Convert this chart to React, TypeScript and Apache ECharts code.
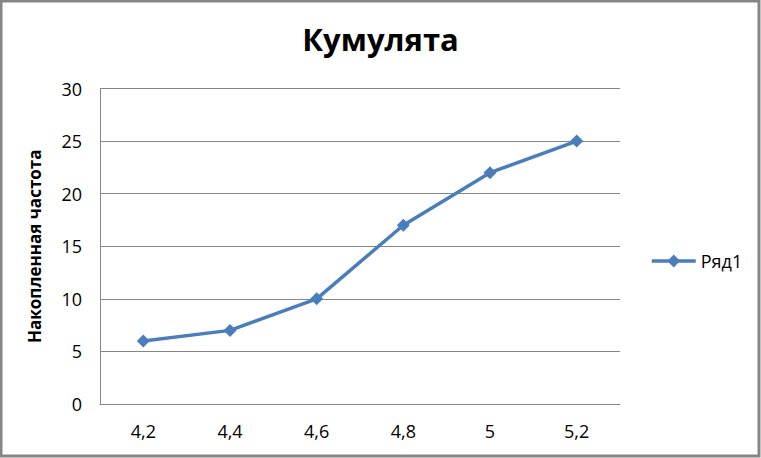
import React, { useEffect, useRef } from "react";
import * as echarts from "echarts";

const categories = ["4,2", "4,4", "4,6", "4,8", "5", "5,2"];
const seriesValues = [6, 7, 10, 17, 22, 25];
const seriesName = "Ряд1";
const titleText = "Кумулята";
const yAxisName = "Накопленная частота";

export default function App() {
  const ref = useRef<HTMLDivElement>(null);
  useEffect(() => {
    document.body.style.margin = "0";
    const chart = echarts.init(ref.current!, null, { renderer: "svg" });
    const font = "'Open Sans', 'Noto Sans', sans-serif";
    chart.setOption({
      animation: false,
      backgroundColor: "#ffffff",
      title: {
        text: titleText,
        left: "center",
        top: 18,
        textStyle: { fontFamily: font, fontSize: 31, fontWeight: "bold", color: "#000" },
      },
      legend: {
        orient: "vertical",
        left: 645,
        top: 247,
        itemWidth: 44,
        itemHeight: 16,
        itemGap: 6,
        textStyle: { fontFamily: font, fontSize: 18, color: "#000" },
        lineStyle: { width: 3.5, color: "#4A7EBB" },
        itemStyle: { color: "#4A7EBB" },
        data: [seriesName],
      },
      grid: { left: 100, right: 141, top: 88.5, bottom: 54, containLabel: false },
      xAxis: {
        type: "category",
        data: categories,
        boundaryGap: true,
        axisLine: { lineStyle: { color: "#868686", width: 1 } },
        axisTick: { show: false },
        axisLabel: { fontFamily: font, fontSize: 18, color: "#000", margin: 18 },
      },
      yAxis: {
        type: "value",
        min: 0,
        max: 30,
        interval: 5,
        name: yAxisName,
        nameLocation: "middle",
        nameGap: 57,
        nameRotate: 90,
        nameTextStyle: { fontFamily: font, fontSize: 17, fontWeight: "bold", color: "#000" },
        axisLine: { show: true, lineStyle: { color: "#868686", width: 1 } },
        axisTick: { show: false },
        axisLabel: { fontFamily: font, fontSize: 18, color: "#000", margin: 18 },
        splitLine: { lineStyle: { color: "#868686", width: 1 } },
      },
      series: [
        {
          name: seriesName,
          type: "line",
          data: seriesValues,
          symbol: "diamond",
          symbolSize: 13,
          lineStyle: { color: "#4A7EBB", width: 3.5 },
          itemStyle: { color: "#4A7EBB" },
        },
      ],
      graphic: [
        {
          type: "rect",
          shape: { x: 1, y: 1, width: 758, height: 455 },
          style: { fill: "none", stroke: "#868686", lineWidth: 3 },
          silent: true,
        },
      ],
    });
    return () => chart.dispose();
  }, []);
  return <div ref={ref} style={{ width: 761, height: 458 }} />;
}
